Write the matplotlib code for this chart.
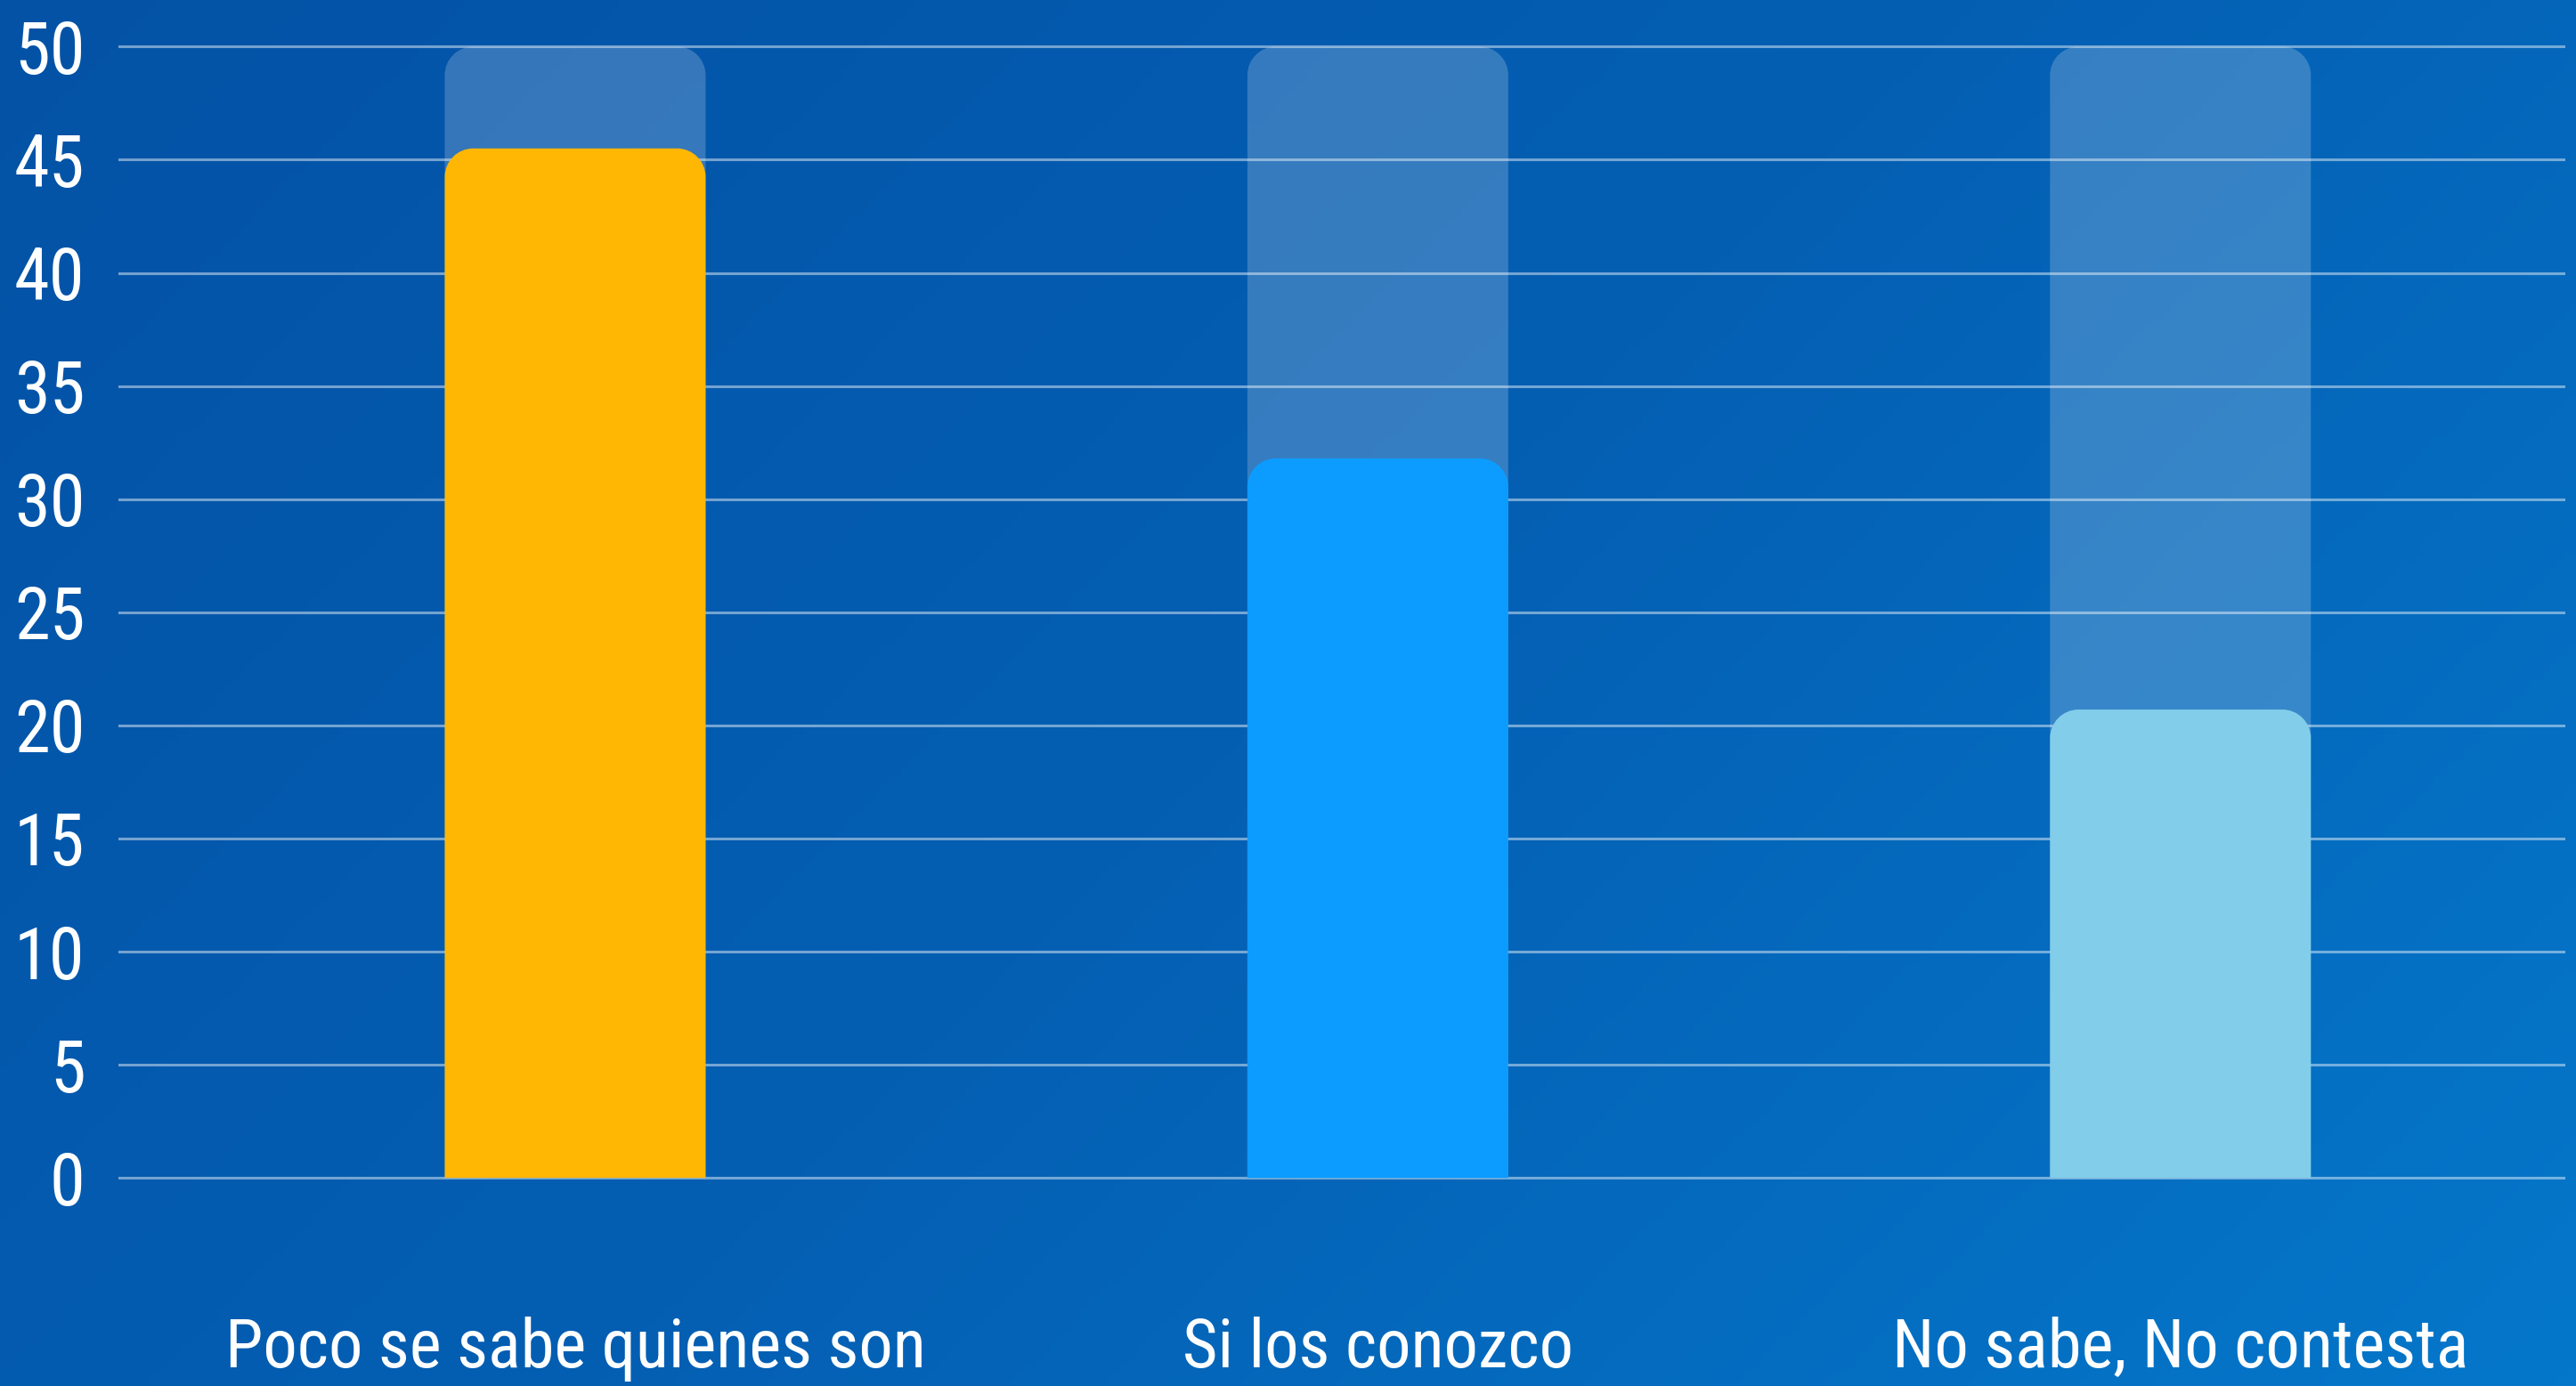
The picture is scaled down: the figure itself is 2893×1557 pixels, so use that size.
import matplotlib
matplotlib.use("Agg")
import matplotlib.pyplot as plt
import numpy as np
from matplotlib.path import Path
from matplotlib.patches import PathPatch
from matplotlib.colors import LinearSegmentedColormap

plt.rcParams['font.family'] = ['Liberation Sans Narrow', 'Roboto Condensed', 'Roboto', 'DejaVu Sans']

categories = ["Poco se sabe quienes son", "Si los conozco", "No sabe, No contesta"]
values = [45.5, 31.8, 20.7]
full_scale = [50, 50, 50]
bar_colors = ["#FFB703", "#0C9CFF", "#82CDEA"]
yticks = [0, 5, 10, 15, 20, 25, 30, 35, 40, 45, 50]

bar_width = 0.325
radius_px = 32


def round_top(ax, rect, color, alpha=1.0, zorder=3):
    # replace a bar rectangle with one that has rounded top corners
    x0, y0 = rect.get_x(), rect.get_y()
    x1, y1 = x0 + rect.get_width(), y0 + rect.get_height()
    p0 = ax.transData.transform((0, 0))
    p1 = ax.transData.transform((1, 1))
    rx = radius_px / (p1[0] - p0[0])
    ry = radius_px / (p1[1] - p0[1])
    k = 0.5523
    verts = [(x0, y0), (x0, y1 - ry),
             (x0, y1 - ry + k * ry), (x0 + rx - k * rx, y1), (x0 + rx, y1),
             (x1 - rx, y1),
             (x1 - rx + k * rx, y1), (x1, y1 - ry + k * ry), (x1, y1 - ry),
             (x1, y0), (x0, y0)]
    codes = [Path.MOVETO, Path.LINETO,
             Path.CURVE4, Path.CURVE4, Path.CURVE4,
             Path.LINETO,
             Path.CURVE4, Path.CURVE4, Path.CURVE4,
             Path.LINETO, Path.CLOSEPOLY]
    rect.set_visible(False)
    ax.add_patch(PathPatch(Path(verts, codes), facecolor=color, edgecolor="none",
                           alpha=alpha, zorder=zorder))


fig = plt.figure(figsize=(28.93, 15.57), dpi=100)

# gradient background
bg = fig.add_axes([0, 0, 1, 1], zorder=-10)
cmap = LinearSegmentedColormap.from_list("bg", ["#0352A6", "#045FB3", "#0477CA"])
gx, gy = np.meshgrid(np.linspace(0, 1, 400), np.linspace(0, 1, 200))
bg.imshow(0.65 * gx + 0.35 * gy, cmap=cmap, aspect="auto", origin="upper",
          extent=[0, 1, 0, 1])
bg.axis("off")

ax = fig.add_axes([0.046, 0.1485, 0.95, 0.8195])
ax.patch.set_alpha(0)
ax.set_xlim(-0.569, 2.48)
ax.set_ylim(-0.1, 50.1)

x = np.arange(len(categories))
back = ax.bar(x, full_scale, width=bar_width, color="white", alpha=0.2, zorder=1)
front = ax.bar(x, values, width=bar_width, color=bar_colors, zorder=3)
fig.canvas.draw()
for r in back:
    round_top(ax, r, "white", alpha=0.2, zorder=1)
for r, c in zip(front, bar_colors):
    round_top(ax, r, c, zorder=3)

for t in yticks:
    ax.axhline(t, color="white", alpha=0.45, linewidth=2.2, zorder=2)

ax.set_yticks(yticks)
ax.set_xticks(x)
ax.set_xticklabels(categories)
ax.tick_params(axis="both", length=0, colors="white")
ax.tick_params(axis="y", pad=27, labelsize=58)
ax.tick_params(axis="x", pad=110, labelsize=55)
for s in ax.spines.values():
    s.set_visible(False)

fig.savefig("out.png", dpi=100)
